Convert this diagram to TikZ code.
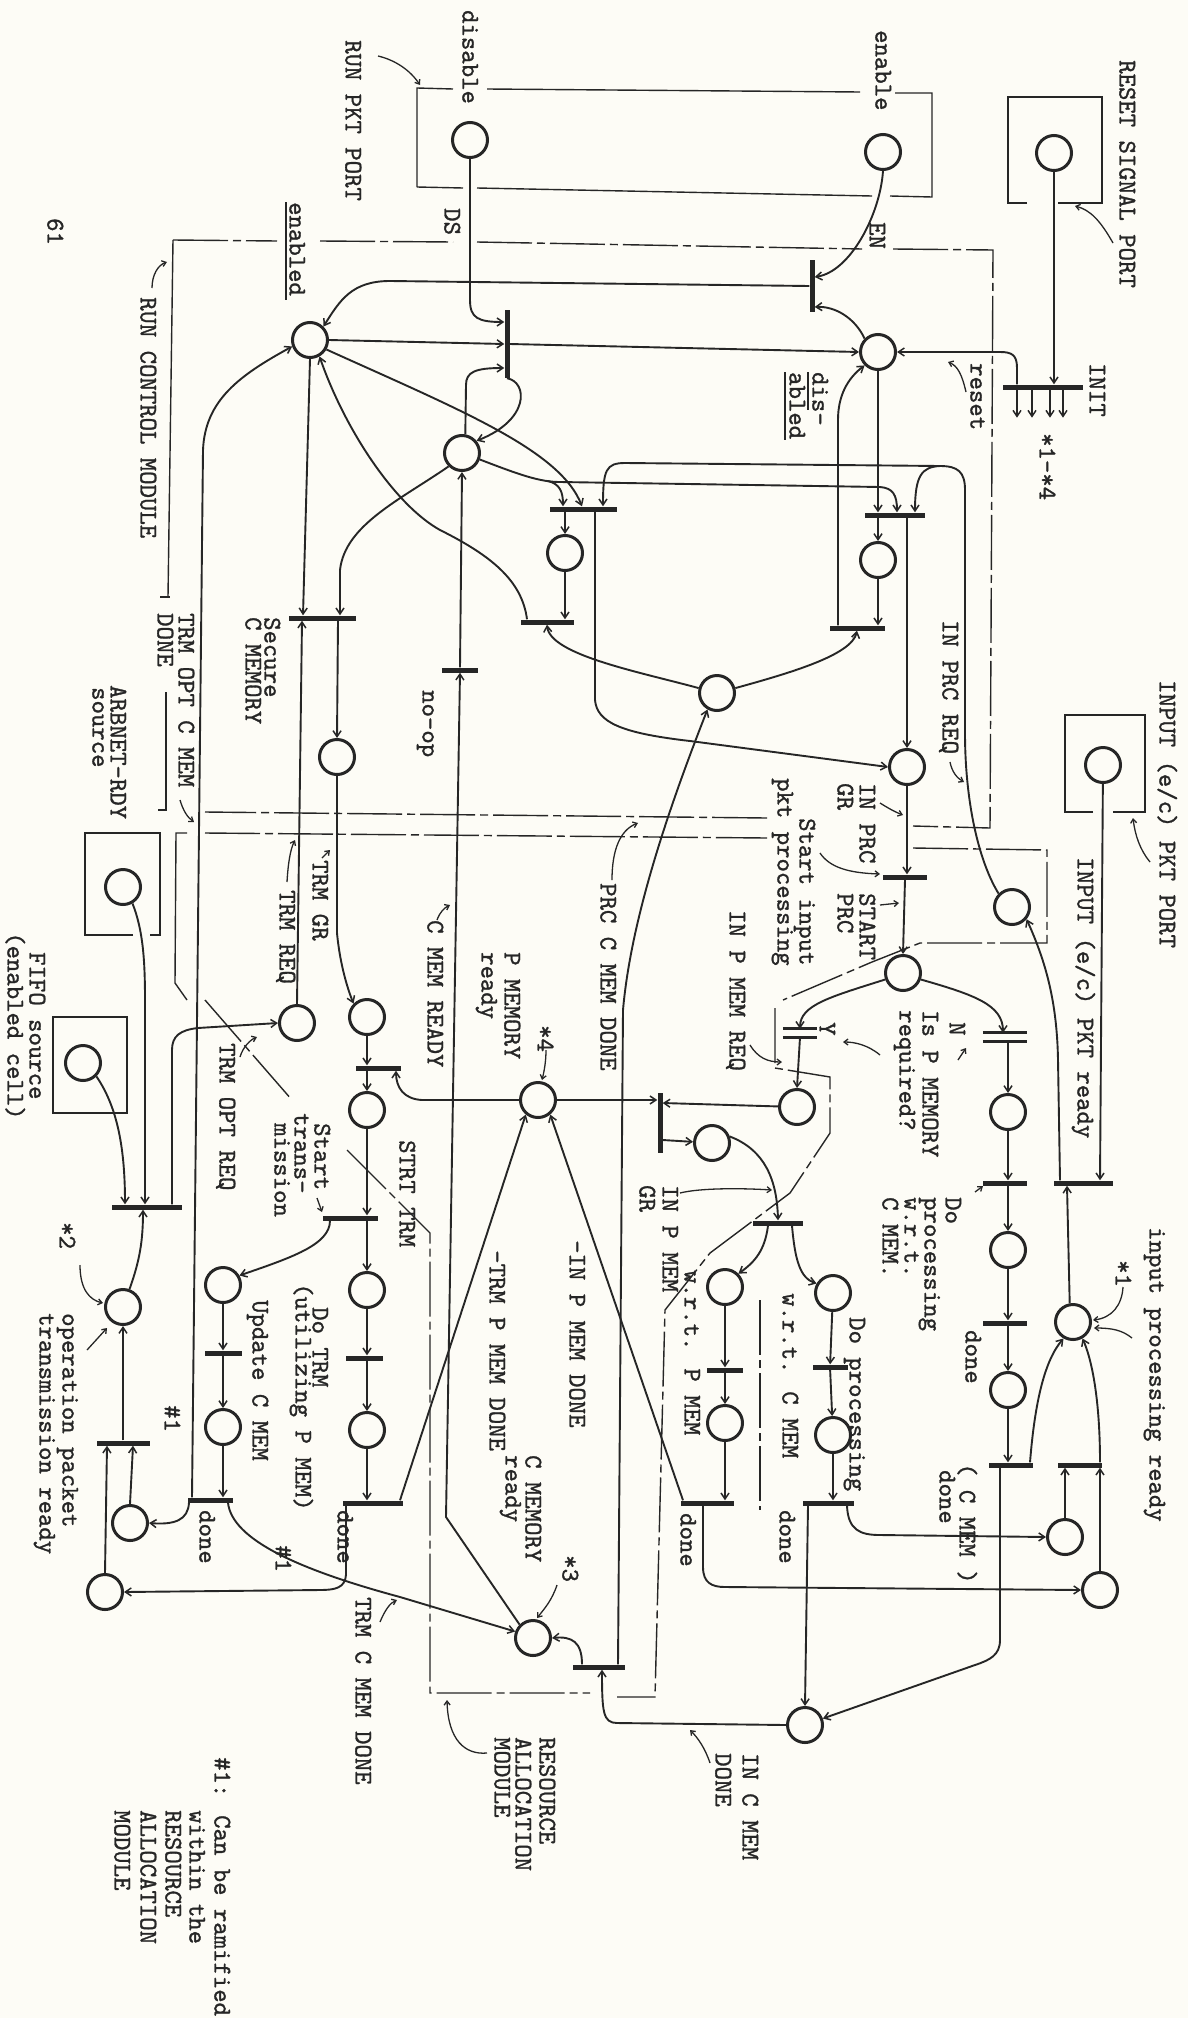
\documentclass[tikz,border=0pt]{standalone}
\usepackage{fontspec}
\newfontfamily\twfont{lmmono10-regular.otf}[FakeBold=1.2]
\usetikzlibrary{arrows.meta}
\definecolor{ink}{RGB}{38,38,38}
\definecolor{paper}{RGB}{253,252,246}
\begin{document}
\begin{tikzpicture}[x=1pt,y=-1pt,
 barb/.tip={Straight Barb[length=6pt,width=8pt,line width=1.5pt]},
 place/.style={circle,draw=ink,line width=3pt,minimum size=35pt,inner sep=0pt},
 hbar/.style={rectangle,fill=ink,inner sep=0pt,minimum height=5pt,minimum width=#1},
 vbar/.style={rectangle,fill=ink,inner sep=0pt,minimum width=5pt,minimum height=#1},
 dbar/.style={rectangle,inner sep=0pt,minimum height=8pt,minimum width=#1},
 arc/.style={draw=ink,line width=1.9pt,-barb},
 ln/.style={draw=ink,line width=1.9pt},
 ptr/.style={draw=ink,line width=1.3pt,-{Straight Barb[length=4pt,width=6pt]}},
 bnd/.style={draw=ink,line width=1.4pt},
 mod/.style={draw=ink,line width=1.4pt,dash pattern=on 55pt off 5pt on 8pt off 5pt},
 lbl/.style={rotate=-90,anchor=west,inner sep=0pt,text=ink,text height=15pt,text depth=0pt,font=\twfont\fontsize{25.5}{27}\selectfont},
]
\fill[paper] (0,0) rectangle (1188,2018);
\useasboundingbox (0,0) rectangle (1188,2018);

% ---------------- places
\node[place] (pReset) at (1054,153) {};
\node[place] (pEnable) at (883,152) {};
\node[place] (pDisable) at (470,140) {};
\node[place] (pEnabled) at (310,340) {};
\node[place] (pDisabled) at (878,352) {};
\node[place] (pRes) at (462,453) {};
\node[place] (pProc) at (565,553) {};
\node[place] (pProcD) at (878,560) {};
\node[place] (pDone) at (717,693) {};
\node[place] (pGr) at (907,767) {};
\node[place] (pReq) at (1012,907) {};
\node[place] (pIn) at (1103,765) {};
\node[place] (pStart) at (903,973) {};
\node[place] (pPReq) at (797,1107) {};
\node[place] (pN1) at (1008,1112) {};
\node[place] (pN2) at (1008,1250) {};
\node[place] (pN3) at (1008,1390) {};
\node[place] (pIPR) at (1073,1322) {};
\node[place] (pC1) at (833,1293) {};
\node[place] (pC2) at (833,1435) {};
\node[place] (pPG) at (712,1143) {};
\node[place] (pP1) at (725,1287) {};
\node[place] (pP2) at (725,1423) {};
\node[place] (pPMem) at (538,1100) {};
\node[place] (pCMem) at (533,1638) {};
\node[place] (pCD) at (1065,1537) {};
\node[place] (pPD) at (1100,1590) {};
\node[place] (pICD) at (805,1725) {};
\node[place] (pTS1) at (337,757) {};
\node[place] (pTG) at (367,1017) {};
\node[place] (pTR) at (297,1023) {};
\node[place] (pTB) at (367,1110) {};
\node[place] (pTC) at (367,1290) {};
\node[place] (pTE) at (367,1430) {};
\node[place] (pU1) at (223,1285) {};
\node[place] (pU2) at (223,1427) {};
\node[place] (pArb) at (123,887) {};
\node[place] (pFifo) at (83,1063) {};
\node[place] (pOp) at (123,1307) {};
\node[place] (pQ1) at (130,1523) {};
\node[place] (pQ2) at (105,1592) {};

% ---------------- transitions
\node[hbar=80pt] (tInit) at (1043,387) {};
\node[vbar=52pt] (tEn) at (812,286) {};
\node[vbar=68pt] (tDs) at (507,344) {};
\node[hbar=67pt] (tStart) at (583,509) {};
\node[hbar=53pt] (tEnd) at (547,622) {};
\node[hbar=60pt] (tStartD) at (895,515) {};
\node[hbar=55pt] (tEndD) at (857,628) {};
\node[hbar=36pt] (tNoop) at (460,670) {};
\node[hbar=67pt] (tSecure) at (322,618) {};
\node[hbar=44pt] (tStrt) at (905,877) {};
\node[dbar=34pt] (tY) at (800,1033) {};
\node[dbar=44pt] (tN) at (1005,1037) {};
\draw[ink,line width=2.8pt] (tY.north west) -- (tY.north east) (tY.south west) -- (tY.south east);
\draw[ink,line width=2.8pt] (tN.north west) -- (tN.north east) (tN.south west) -- (tN.south east);
\node[hbar=44pt] (tN1) at (1005,1183) {};
\node[hbar=44pt] (tN2) at (1005,1323) {};
\node[hbar=44pt] (tN3) at (1011,1465) {};
\node[hbar=59pt] (tInRdy) at (1083,1183) {};
\node[hbar=44pt] (tR) at (1080,1465) {};
\node[vbar=60pt] (tPG) at (660,1123) {};
\node[hbar=50pt] (tFork) at (778,1223) {};
\node[hbar=36pt] (tP1) at (725,1370) {};
\node[hbar=53pt] (tPdone) at (707,1503) {};
\node[hbar=35pt] (tC1) at (830,1367) {};
\node[hbar=51pt] (tCdone) at (828,1503) {};
\node[hbar=52pt] (tCM) at (599,1667) {};
\node[hbar=45pt] (tSt) at (378,1068) {};
\node[hbar=55pt] (tTx) at (350,1218) {};
\node[hbar=37pt] (tTx2) at (364,1358) {};
\node[hbar=60pt] (tTdone) at (373,1503) {};
\node[hbar=37pt] (tU1) at (223,1353) {};
\node[hbar=45pt] (tUdone) at (210,1500) {};
\node[hbar=70pt] (tOptReq) at (147,1207) {};
\node[hbar=53pt] (tOpRdy) at (123,1443) {};

% ---------------- arcs: reset / run pkt port
\draw[arc] (pReset) -- (pReset |- tInit.north);
\foreach \dx in {-26,-11,7,20} \draw[arc] ([xshift=\dx]tInit.south) -- ++(0,28);
\draw[arc] ([xshift=-26]tInit.north) -- (1017,368) .. controls (1017,355) and (1012,352) .. (1000,352) -- (pDisabled.east);
\draw[arc] (pEnable.south) .. controls (880,215) and (850,272) .. ([yshift=9]tEn.east);
\draw[arc] (pDisabled.north west) .. controls (855,318) and (835,306) .. ([yshift=-21]tEn.east);
\draw[arc] (tEn.west) -- (390,281) .. controls (352,281) and (340,300) .. (pEnabled.north east);
\draw[arc] (pEnabled.east) -- (tDs.west);
\draw[arc] (tDs.east) -- (pDisabled.west);
\draw[arc] (pDisable.south) -- (470,300) .. controls (470,318) and (478,322) .. ([yshift=22]tDs.west);
\draw[arc] (pRes.80) -- (466,385) .. controls (466,372) and (475,368) .. ([yshift=-24]tDs.west);
\draw[arc] (tDs.south) .. controls (528,382) and (530,420) .. (pRes.40);
\draw[arc] (tNoop.north) -- (pRes.south);
\draw[arc] (pCMem.north west) -- (446,1517) -- (tNoop.south);

% ---------------- run control
\draw[arc] (pEnabled.-30) .. controls (460,410) and (560,450) .. ([xshift=-1]tStart.north);
\draw[ln] (pRes.-20) .. controls (520,475) and (540,482) .. (560,482) -- (880,487);
\draw[arc] (880,487) .. controls (893,488) and (897,495) .. ([xshift=2]tStartD.north);
\draw[arc] (548,481) .. controls (560,484) and (563,492) .. ([xshift=-20]tStart.north);
\draw[ln] (pReq.north west) .. controls (978,860) and (965,800) .. (965,733) -- (965,490) .. controls (965,472) and (958,466) .. (940,466) -- (625,463);
\draw[arc] (625,463) .. controls (606,463) and (603,470) .. ([xshift=20]tStart.north);
\draw[arc] (940,466) .. controls (922,467) and (915,475) .. ([xshift=20]tStartD.north);
\draw[arc] (pDisabled) -- ([xshift=-17]tStartD.north);
\draw[arc] ([xshift=-17]tStartD.south) -- (pProcD.north);
\draw[arc] ([xshift=12]tStartD.south) -- (pGr.north);
\draw[arc] (pProcD.south) -- ([xshift=21]tEndD.north);
\draw[arc] ([xshift=-19]tEndD.north) -- (838,420) .. controls (838,395) and (848,378) .. (pDisabled.south west);
\draw[arc] (pDone.15) .. controls (790,673) and (852,655) .. (tEndD.south);
\draw[arc] (pDone.165) .. controls (640,672) and (550,655) .. (tEnd.south);
\draw[arc] ([xshift=-20]tEnd.north) .. controls (522,580) and (490,555) .. (440,530) .. controls (395,505) and (345,430) .. (pEnabled.-60);
\draw[arc] ([xshift=-18]tStart.south) -- (pProc.north);
\draw[arc] (pProc.south) -- ([xshift=18]tEnd.north);
\draw[arc] ([xshift=12]tStart.south) -- (595,700) .. controls (597,722) and (620,733) .. (690,741) -- (pGr.west);
\draw[arc] (pEnabled.south) -- ([xshift=-19]tSecure.north);
\draw[arc] (pRes.225) .. controls (400,500) and (345,525) .. (340,570) -- ([xshift=18]tSecure.north);
\draw[arc] (pTR.north) -- ([xshift=-20]tSecure.south);
\draw[arc] ([xshift=16]tSecure.south) -- (pTS1.north);
\draw[arc] (pTS1.south) -- (337,933) .. controls (340,965) and (348,990) .. (pTG.135);

% ---------------- input processing
\draw[arc] (pGr.south) -- ([xshift=2]tStrt.north);
\draw[arc] (tStrt.south) -- (pStart.north);
\draw[arc] (pStart.-20) .. controls (975,995) and (1003,1005) .. ([xshift=-2]tN.north);
\draw[arc] (pStart.-160) .. controls (830,997) and (800,1005) .. (tY.north);
\draw[arc] (tY.south) -- (pPReq.north);
\draw[arc] ([xshift=3]tN.south) -- (pN1.north);
\draw[arc] (pN1) -- ([xshift=3]tN1.north);
\draw[arc] ([xshift=3]tN1.south) -- (pN2.north);
\draw[arc] (pN2) -- ([xshift=3]tN2.north);
\draw[arc] ([xshift=3]tN2.south) -- (pN3.north);
\draw[arc] (pN3) -- ([xshift=-3]tN3.north);
\draw[arc] ([xshift=19]tN3.north) .. controls (1035,1400) and (1045,1360) .. (pIPR.-120);
\draw[arc] ([xshift=-11]tN3.south) -- (1000,1640) .. controls (1000,1655) and (990,1660) .. (975,1665) -- (pICD.20);
\draw[arc] ([xshift=20]tR.north) .. controls (1100,1400) and (1092,1360) .. (pIPR.-60);
\draw[arc] (pCD.north) -- ([xshift=-15]tR.south);
\draw[arc] (pPD.north) -- ([xshift=20]tR.south);
\draw[arc] (pIPR.100) -- ([xshift=-16]tInRdy.south);
\draw[arc] (pIn) -- ([xshift=17]tInRdy.north);
\draw[arc] ([xshift=-23]tInRdy.north) -- (1058,1060) .. controls (1057,1000) and (1045,960) .. (pReq.-40);

% ---------------- resource allocation
\draw[arc] (pPReq) -- ([yshift=20]tPG.east);
\draw[arc] (pPMem) -- ([yshift=23]tPG.west);
\draw[arc] ([yshift=-17]tPG.east) -- (pPG);
\draw[arc] (pPG.20) .. controls (765,1150) and (777,1180) .. (tFork.north);
\draw[arc] ([xshift=-10]tFork.south) .. controls (765,1250) and (755,1262) .. (pP1.45);
\draw[arc] ([xshift=14]tFork.south) .. controls (795,1260) and (800,1278) .. (pC1.150);
\draw[arc] (pP1) -- (tP1);
\draw[arc] (tP1) -- (pP2);
\draw[arc] (pP2) -- ([xshift=18]tPdone.north);
\draw[arc] ([xshift=-24]tPdone.north) -- (pPMem.-50);
\draw[arc] ([xshift=-4]tPdone.south) -- (703,1567) .. controls (703,1583) and (712,1587) .. (725,1587) -- (pPD.west);
\draw[arc] (pC1) -- (tC1);
\draw[arc] (tC1) -- (pC2);
\draw[arc] (pC2) -- ([xshift=5]tCdone.north);
\draw[arc] ([xshift=-20]tCdone.south) -- (pICD.north);
\draw[arc] ([xshift=19]tCdone.south) .. controls (848,1530) and (860,1535) .. (880,1535) -- (pCD.west);
\draw[arc] (pICD.west) -- (617,1723) .. controls (603,1723) and (602,1712) .. ([xshift=3]tCM.south);
\draw[arc] ([xshift=-17]tCM.north) .. controls (582,1642) and (572,1636) .. (pCMem.east);
\draw[arc] ([xshift=19]tCM.north) -- (623,1010) .. controls (630,930) and (660,830) .. (pDone.-120);
\draw[arc] (pPMem.west) -- (422,1100) .. controls (404,1099) and (396,1088) .. ([xshift=18]tSt.south);

% ---------------- transmission
\draw[arc] (pTG) -- ([xshift=-11]tSt.north);
\draw[arc] ([xshift=-11]tSt.south) -- (pTB.north);
\draw[arc] (pTB) -- ([xshift=17]tTx.north);
\draw[arc] ([xshift=17]tTx.south) -- (pTC.north);
\draw[arc] ([xshift=-20]tTx.south) .. controls (330,1245) and (290,1258) .. (pU1.30);
\draw[arc] (pTC) -- ([xshift=3]tTx2.north);
\draw[arc] ([xshift=3]tTx2.south) -- (pTE.north);
\draw[arc] (pTE) -- ([xshift=-6]tTdone.north);
\draw[arc] ([xshift=27]tTdone.north) -- (pPMem.-130);
\draw[arc] ([xshift=-27]tTdone.south) -- (346,1575) .. controls (345,1588) and (335,1590) .. (320,1590) -- (pQ2.east);
\draw[arc] (pU1) -- (tU1);
\draw[arc] (tU1) -- (pU2);
\draw[arc] (pU2) -- ([xshift=13]tUdone.north);
\draw[arc] ([xshift=18]tUdone.south) .. controls (232,1540) and (300,1570) .. (400,1597) -- (pCMem.160);
\draw[arc] ([xshift=-21]tUdone.south) .. controls (188,1520) and (175,1525) .. (pQ1.east);
\draw[arc] ([xshift=-18]tUdone.north) -- (203,450) .. controls (205,400) and (240,375) .. (pEnabled.200);
\draw[arc] (pQ1.north) -- ([xshift=10]tOpRdy.south);
\draw[arc] (pQ2.north) -- ([xshift=-16]tOpRdy.south);
\draw[arc] (tOpRdy.north) -- (pOp.south);
\draw[arc] (pOp.70) .. controls (140,1260) and (143,1240) .. ([xshift=-4]tOptReq.south);
\draw[arc] (pArb.-60) .. controls (143,930) and (145,960) .. (145,1000) -- ([xshift=-2]tOptReq.north);
\draw[arc] (pFifo.-45) .. controls (118,1108) and (125,1150) .. ([xshift=-22]tOptReq.north);
\draw[arc] ([xshift=25]tOptReq.north) -- (172,1050) .. controls (172,1036) and (180,1030) .. (198,1028) -- (pTR.west);

% ---------------- boxes and module boundaries
\draw[bnd] (417,187) -- (417,88) -- (453,89) (487,89) -- (860,92) (895,93) -- (932,93) -- (932,197) -- (890,196) (872,196) -- (477,188) (463,188) -- (417,187);
\draw[bnd] (1027,203) -- (1008,203) -- (1008,97) -- (1102,97) -- (1102,203) -- (1058,203);
\draw[bnd] (1093,812) -- (1065,812) -- (1065,715) -- (1145,715) -- (1145,812) -- (1113,812);
\draw[bnd] (133,935) -- (85,935) -- (85,833) -- (160,833) -- (160,935) -- (150,935);
\draw[bnd] (53,1017) rectangle (127,1113);
\draw[mod] (173,240) -- (277,241) (320,241) -- (453,242) (477,242) -- (862,249) (893,249) -- (993,250) -- (990,828) -- (913,826);
\draw[mod] (767,818) -- (205,812);
\draw[bnd] (168,597) -- (173,240);
\draw[bnd] (160,597) -- (170,597);
\draw[bnd] (166,692) -- (166,810) -- (158,810);
\draw[mod] (205,833) -- (767,838) (913,848) -- (1047,850) -- (1047,943) -- (920,943) -- (872,962) -- (783,1000);
\draw[mod] (775,1008) -- (775,1068) -- (830,1077) -- (830,1133) -- (790,1193) -- (710,1253) -- (665,1310) -- (655,1697) -- (617,1697);
\draw[mod] (760,1300) -- (760,1510);
\draw[bnd] (187,833) -- (176,833) -- (175,983) -- (187,1000);
\draw[mod] (205,1000) -- (292,1100);
\draw[mod] (347,1150) -- (430,1233) -- (430,1693) -- (590,1693);

% underlines
\draw[bnd] (286,202) -- (286,300);
\draw[bnd] (808,372) -- (808,410);
\draw[bnd] (785,372) -- (785,440);

% ---------------- labels
\node[lbl] (lReset) at (1127,60) {RESET SIGNAL PORT};
\node[lbl] (lInit) at (1097,363) {INIT};
\node[lbl] (l14) at (1047,433) {*1–*4};
\node[lbl] (lEnable) at (883,30) {enable};
\node[lbl] (lEN) at (877,222) {EN};
\node[lbl] (lDisable) at (470,10) {disable};
\node[lbl] (lDS) at (452,208) {DS};
\node[lbl] (lRunPkt) at (353,40) {RUN PKT PORT};
\node[lbl] (l61) at (55,218) {61};
\node[lbl] (lEnabled) at (297,202) {enabled};
\node[lbl] (lRunCtl) at (148,297) {RUN CONTROL MODULE};
\node[lbl] (lDis1) at (820,372) {dis-};
\node[lbl] (lDis2) at (797,372) {abled};
\node[lbl] (lReset2) at (978,363) {reset};
\node[lbl] (lInPrcReq) at (950,620) {IN PRC REQ};
\node[lbl] (lInPort) at (1167,680) {INPUT (e/c) PKT PORT};
\node[lbl] (lInRdy) at (1085,857) {INPUT (e/c) PKT ready};
\node[lbl] (lGr1) at (867,783) {IN PRC};
\node[lbl] (lGr2) at (845,783) {GR};
\node[lbl] (lSp1) at (867,893) {START};
\node[lbl] (lSp2) at (845,893) {PRC};
\node[lbl] (lSi1) at (807,818) {Start input};
\node[lbl] (lSi2) at (785,778) {pkt processing};
\node[lbl] (lPReq) at (737,910) {IN P MEM REQ};
\node[lbl] (lPrcDone) at (608,883) {PRC C MEM DONE};
\node[lbl] (lCReady) at (435,920) {C MEM READY};
\node[lbl] (lNoop) at (430,690) {no-op};
\node[lbl] (lSec1) at (272,617) {Secure};
\node[lbl] (lSec2) at (253,617) {C MEMORY};
\node[lbl] (lTocd1) at (186,613) {TRM OPT C MEM};
\node[lbl] (lTocd2) at (165,613) {DONE};
\node[lbl] (lArb1) at (118,685) {ARBNET-RDY};
\node[lbl] (lArb2) at (100,687) {source};
\node[lbl] (lTrmGr) at (320,860) {TRM GR};
\node[lbl] (lTrmReq) at (287,890) {TRM REQ};
\node[lbl] (lPm1) at (512,952) {P MEMORY};
\node[lbl] (lPm2) at (489,952) {ready};
\node[lbl] (l4) at (545,1025) {*4};
\node[lbl] (lIs1) at (930,1010) {Is P MEMORY};
\node[lbl] (lIs2) at (907,1010) {required?};
\node[lbl] (lY) at (827,1022) {Y};
\node[lbl] (lN) at (957,1022) {N};
\node[lbl] (lDo1) at (953,1197) {Do};
\node[lbl] (lDo2) at (932,1197) {processing};
\node[lbl] (lDo3) at (912,1197) {w.r.t.};
\node[lbl] (lDo4) at (890,1197) {C MEM.};
\node[lbl] (lDone1) at (973,1330) {done};
\node[lbl] (lCm1) at (967,1463) {( C MEM )};
\node[lbl] (lCm2) at (947,1470) {done};
\node[lbl] (l1) at (1123,1260) {*1};
\node[lbl] (lIpr) at (1157,1227) {input processing ready};
\node[lbl] (lPg1) at (670,1185) {IN P MEM};
\node[lbl] (lPg2) at (647,1185) {GR};
\node[lbl] (lWc) at (790,1293) {w.r.t. C MEM};
\node[lbl] (lDp) at (857,1317) {Do processing};
\node[lbl] (lWp) at (692,1270) {w.r.t. P MEM};
\node[lbl] (lDoneP) at (688,1513) {done};
\node[lbl] (lDoneC) at (787,1510) {done};
\node[lbl] (lIpd) at (577,1240) {–IN P MEM DONE};
\node[lbl] (lTpd) at (497,1250) {–TRM P MEM DONE};
\node[lbl] (lCm3) at (533,1455) {C MEMORY};
\node[lbl] (lCm4) at (513,1455) {ready};
\node[lbl] (l3) at (570,1555) {*3};
\node[lbl] (lRam1) at (547,1737) {RESOURCE};
\node[lbl] (lRam2) at (523,1737) {ALLOCATION};
\node[lbl] (lRam3) at (502,1737) {MODULE};
\node[lbl] (lIcd1) at (750,1753) {IN C MEM};
\node[lbl] (lIcd2) at (723,1753) {DONE};
\node[lbl] (lTcd) at (363,1597) {TRM C MEM DONE};
\node[lbl] (lNote1) at (222,1757) {\#1: Can be ramified};
\node[lbl] (lNote2) at (197,1810) {within the};
\node[lbl] (lNote3) at (173,1810) {RESOURCE};
\node[lbl] (lNote4) at (148,1810) {ALLOCATION};
\node[lbl] (lNote5) at (122,1810) {MODULE};
\node[lbl] (lH1) at (172,1405) {\#1};
\node[lbl] (lH2) at (283,1545) {\#1};
\node[lbl] (lDoneT) at (345,1510) {done};
\node[lbl] (lDoneU) at (207,1510) {done};
\node[lbl] (lDt1) at (320,1307) {Do TRM};
\node[lbl] (lDt2) at (303,1283) {(utilizing P MEM)};
\node[lbl] (lUp) at (260,1300) {Update C MEM};
\node[lbl] (lSt1) at (322,1123) {Start};
\node[lbl] (lSt2) at (302,1113) {trans-};
\node[lbl] (lSt3) at (282,1123) {mission};
\node[lbl] (lStrt) at (407,1140) {STRT TRM};
\node[lbl] (lOptReq) at (227,1043) {TRM OPT REQ};
\node[lbl] (l2) at (67,1222) {*2};
\node[lbl] (lOp1) at (70,1313) {operation packet};
\node[lbl] (lOp2) at (47,1313) {transmission ready};
\node[lbl] (lFifo1) at (37,952) {FIFO source};
\node[lbl] (lFifo2) at (15,932) {(enabled cell)};

% ---------------- label pointers
\draw[ptr] (1113,243) .. controls (1100,220) and (1090,210) .. (1075,206);
\draw[ptr] (378,56) .. controls (395,60) and (410,70) .. (420,85);
\draw[ptr] (152,288) .. controls (152,275) and (158,265) .. (167,262);
\draw[ptr] (966,392) .. controls (962,375) and (958,366) .. (948,362);
\draw[ptr] (950,762) .. controls (952,772) and (957,778) .. (964,782);
\draw[ptr] (1150,862) .. controls (1140,850) and (1135,835) .. (1133,818);
\draw[ptr] (880,803) .. controls (888,808) and (895,812) .. (903,815);
\draw[ptr] (820,853) .. controls (830,868) and (850,873) .. (880,874);
\draw[ptr] (880,905) -- (899,903);
\draw[ptr] (880,1055) .. controls (868,1045) and (855,1042) .. (843,1042);
\draw[ptr] (958,1060) -- (966,1048);
\draw[ptr] (975,1192) -- (983,1186);
\draw[ptr] (1123,1287) .. controls (1122,1305) and (1112,1318) .. (1093,1320);
\draw[ptr] (1132,1338) .. controls (1122,1330) and (1112,1328) .. (1094,1328);
\draw[ptr] (546,1050) .. controls (546,1062) and (544,1072) .. (542,1080);
\draw[ptr] (557,1585) .. controls (552,1600) and (545,1608) .. (537,1618);
\draw[ptr] (750,1045) .. controls (758,1058) and (768,1062) .. (782,1062);
\draw[ptr] (680,1193) .. controls (700,1188) and (740,1188) .. (772,1190);
\draw[ptr] (612,880) .. controls (612,850) and (620,830) .. (638,823);
\draw[ptr] (437,920) .. controls (440,912) and (444,908) .. (450,905);
\draw[ptr] (322,858) -- (330,850);
\draw[ptr] (287,882) .. controls (288,865) and (290,850) .. (295,840);
\draw[ptr] (180,800) .. controls (183,810) and (187,817) .. (194,822);
\draw[ptr] (240,1057) .. controls (243,1047) and (250,1040) .. (257,1037);
\draw[ptr] (80,1265) .. controls (80,1290) and (90,1300) .. (103,1303);
\draw[ptr] (87,1350) -- (107,1328);
\draw[ptr] (487,1753) .. controls (465,1755) and (448,1740) .. (447,1700);
\draw[ptr] (710,1763) .. controls (705,1748) and (698,1738) .. (690,1730);
\draw[ptr] (380,1622) .. controls (385,1610) and (390,1603) .. (397,1600);
\draw[ptr] (317,1198) -- (322,1212);
\end{tikzpicture}
\end{document}
